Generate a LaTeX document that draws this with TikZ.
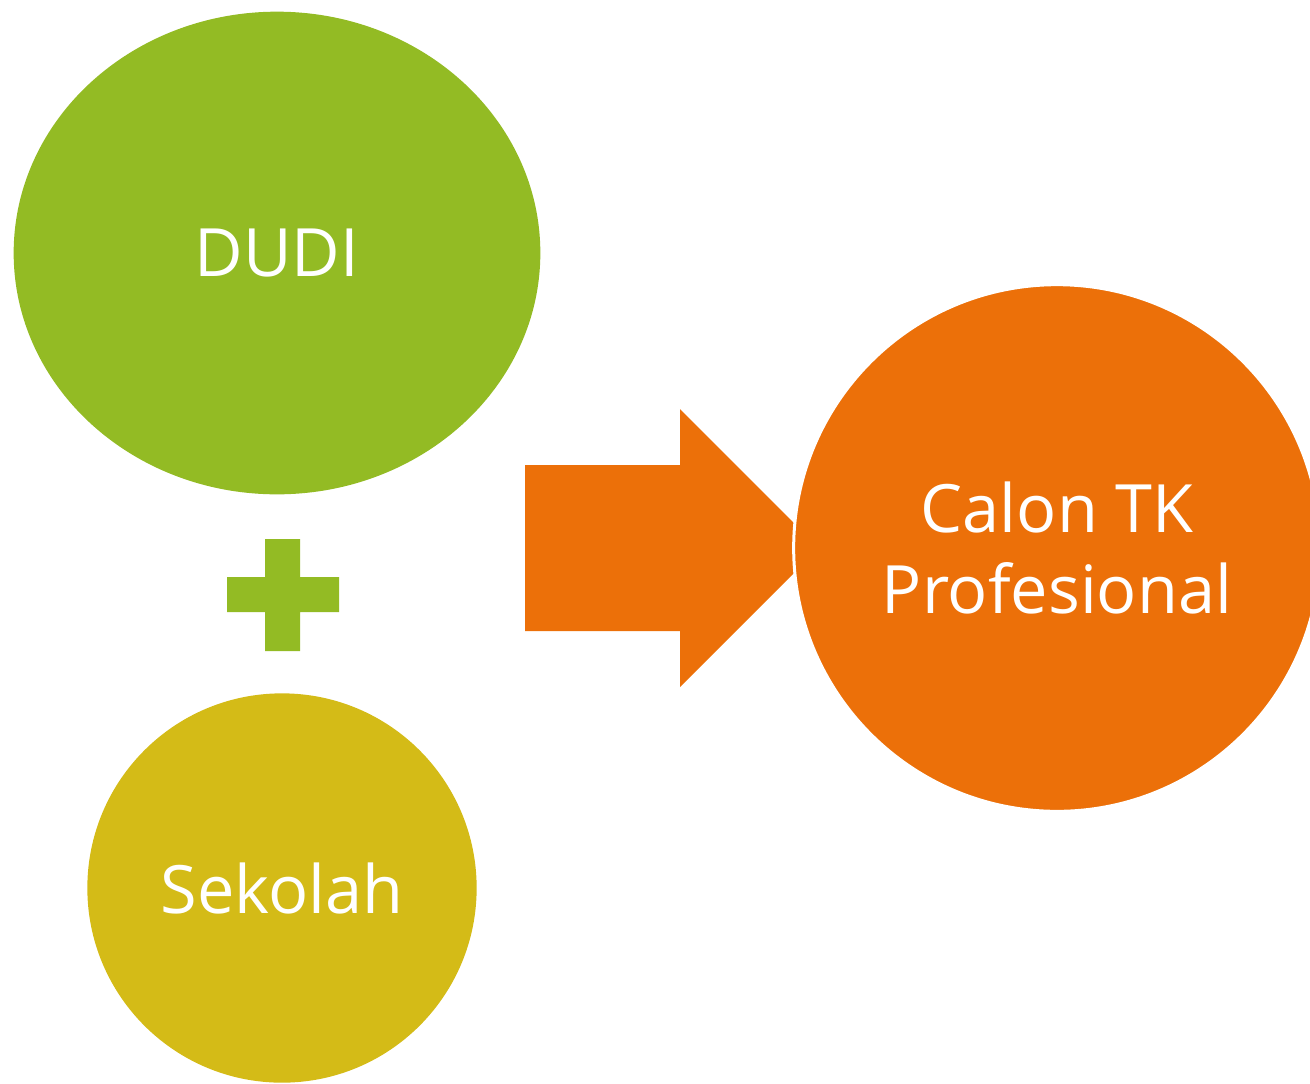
\documentclass[tikz,border=0pt]{standalone}
\usepackage{fontspec}
\setmainfont{Open Sans}
\usetikzlibrary{shapes.geometric}
\definecolor{dudigreen}{HTML}{93BB24}
\definecolor{sekolahgold}{HTML}{D4BB17}
\definecolor{calonorange}{HTML}{EC7009}
\tikzset{
  blob/.style={inner sep=0pt,text=white,align=center,
    font=\fontsize{50}{61}\selectfont},
}
\begin{document}
\begin{tikzpicture}[x=0.75pt,y=-0.75pt]
  \useasboundingbox (0,0) rectangle (1310,1083);
  % the two partners
  \node[blob,ellipse,fill=dudigreen,minimum width=395pt,minimum height=362pt]
    (dudi) at (277,253) {DUDI};
  \node[blob,circle,fill=sekolahgold,minimum size=292pt]
    (sekolah) at (282,888) {Sekolah};
  % plus sign
  \fill[dudigreen] (227,577) rectangle (339,612)
                   (265,539) rectangle (300,651);
  % block arrow
  \fill[calonorange] (525,465) -- (680,465) -- (680,409) -- (819,548)
    -- (680,687) -- (680,631) -- (525,631) -- cycle;
  % result
  \node[blob,circle,fill=calonorange,draw=white,line width=2.25pt,
    minimum size=395pt] (calon) at (1057,548) {Calon TK\\Profesional};
\end{tikzpicture}
\end{document}
